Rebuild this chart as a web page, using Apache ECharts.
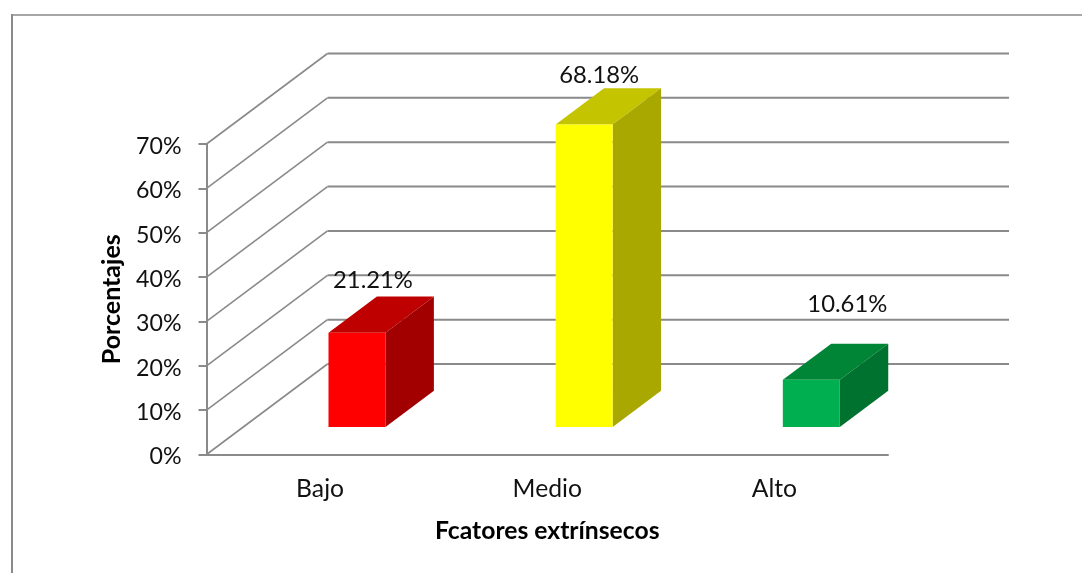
<!DOCTYPE html>
<html>
<head>
<meta charset="utf-8">
<script src="https://cdn.jsdelivr.net/npm/echarts@6/dist/echarts.min.js"></script>
<style>html,body{margin:0;padding:0;background:#fff}#c{width:1082px;height:573px}</style>
</head>
<body>
<div id="c"></div>
<script>
const categories = ['Bajo', 'Medio', 'Alto'];
const values = [21.21, 68.18, 10.61];
const tickValues = [0, 10, 20, 30, 40, 50, 60, 70];
const faceColors = ['#FF0000', '#FFFF00', '#00B050'];
const topColors = ['#BF0000', '#C4C400', '#008537'];
const sideColors = ['#A20000', '#A8A800', '#00722F'];
// hand-placed value labels, relative to the top of each front face
const labelShift = [[16, -52], [15, -49], [36, -76]];

const FONT = 'Lato, "Open Sans", sans-serif';
const GREY = '#8a8a8a';
// floor depth of the 3D box, and where the columns sit inside it
const DEPTH = [121, -90.5];
const FRONT = 0.305;
const BACK = 0.705;
const BAR_W = 57;

function wallLine(api, params) {
  const v = tickValues[params.dataIndex];
  const r = params.coordSys;
  const y = api.coord([0, v])[1];
  const children = [{
    type: 'line',
    shape: {x1: r.x, y1: y, x2: r.x + DEPTH[0], y2: y + DEPTH[1]},
    style: {stroke: GREY, lineWidth: 1.6}
  }, {
    type: 'line',
    shape: {x1: r.x + DEPTH[0], y1: y + DEPTH[1], x2: r.x + r.width + DEPTH[0], y2: y + DEPTH[1]},
    style: {stroke: GREY, lineWidth: 2}
  }];
  return {type: 'group', children};
}

function box(api, params) {
  const i = params.dataIndex;
  const base = api.coord([i, 0]);
  const top = api.coord([i, api.value(1)]);
  const fx = base[0] + DEPTH[0] * FRONT - BAR_W / 2;
  const fb = base[1] + DEPTH[1] * FRONT;
  const ft = top[1] + DEPTH[1] * FRONT;
  const dx = DEPTH[0] * (BACK - FRONT);
  const dy = DEPTH[1] * (BACK - FRONT);
  const R = fx + BAR_W;
  return {type: 'group', children: [
    {type: 'polygon', shape: {points: [[fx, ft], [R, ft], [R + dx, ft + dy], [fx + dx, ft + dy]]},
      style: {fill: topColors[i]}},
    {type: 'polygon', shape: {points: [[R, ft], [R + dx, ft + dy], [R + dx, fb + dy], [R, fb]]},
      style: {fill: sideColors[i]}},
    {type: 'rect', shape: {x: fx, y: ft, width: BAR_W, height: fb - ft},
      style: {fill: faceColors[i]}},
    {type: 'text',
      style: {
        x: fx + BAR_W / 2 + labelShift[i][0], y: ft + labelShift[i][1],
        text: api.value(1).toFixed(2) + '%',
        font: '23.8px ' + FONT, fill: '#111', align: 'center', verticalAlign: 'middle'
      }}
  ]};
}

const chart = echarts.init(document.getElementById('c'), null, {renderer: 'canvas'});
chart.setOption({
  animation: false,
  backgroundColor: '#fff',
  graphic: [
    {type: 'line', shape: {x1: 12, y1: 15, x2: 1082, y2: 15}, style: {stroke: GREY, lineWidth: 1.6}},
    {type: 'line', shape: {x1: 12, y1: 14, x2: 12, y2: 573}, style: {stroke: GREY, lineWidth: 2}}
  ],
  grid: {left: 206.5, right: 194, top: 144, bottom: 118.5, containLabel: false},
  xAxis: {
    type: 'category',
    data: categories,
    axisTick: {show: false},
    axisLine: {lineStyle: {color: GREY, width: 2}, onZero: false},
    axisLabel: {color: '#111', fontFamily: FONT, fontSize: 24.7, margin: 22},
    name: 'Fcatores extrínsecos',
    nameLocation: 'middle',
    nameGap: 64,
    nameTextStyle: {color: '#000', fontFamily: FONT, fontWeight: 'bold', fontSize: 24.7}
  },
  yAxis: {
    type: 'value',
    min: 0, max: 70, interval: 10,
    splitLine: {show: false},
    axisLine: {show: true, lineStyle: {color: GREY, width: 2}},
    axisTick: {show: true, length: 8, lineStyle: {color: GREY, width: 2}},
    axisLabel: {
      margin: 25,
      formatter: '{t|{value}%}',
      rich: {t: {color: '#111', fontFamily: FONT, fontSize: 23.2, padding: [5, 0, 0, 0]}}
    },
    name: 'Porcentajes',
    nameLocation: 'middle',
    nameRotate: 90,
    nameGap: 82,
    nameTextStyle: {color: '#000', fontFamily: FONT, fontWeight: 'bold', fontSize: 25}
  },
  series: [
    {type: 'custom', renderItem: (p, a) => wallLine(a, p), data: tickValues.map(v => [0, v]), silent: true, z: 1, clip: false},
    {type: 'custom', renderItem: (p, a) => box(a, p), data: values.map((v, i) => [i, v]), z: 3, clip: false}
  ]
});
</script>
</body>
</html>
